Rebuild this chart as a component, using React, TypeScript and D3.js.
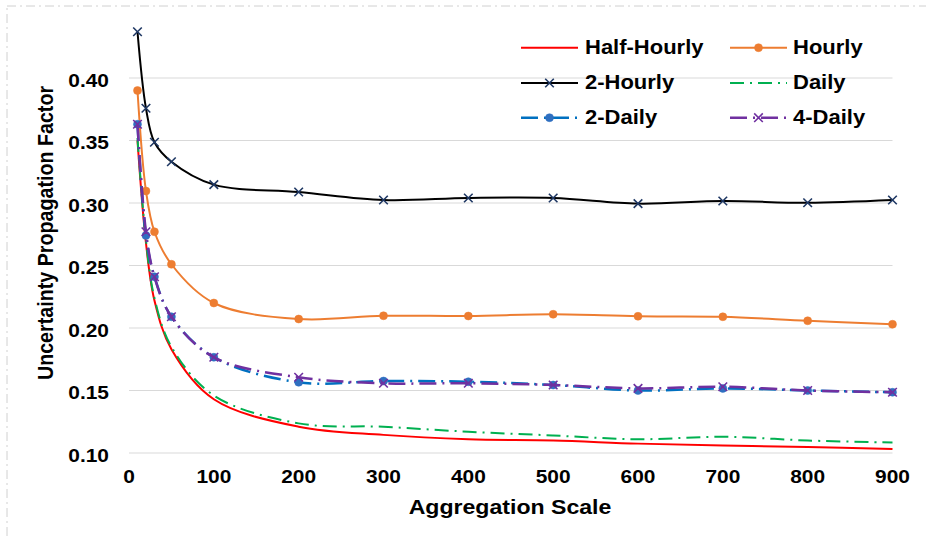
import React from "react";
import * as d3 from "d3";

const scales = [10, 20, 30, 50, 100, 200, 300, 400, 500, 600, 700, 800, 900];
const halfHourly = [0.35, 0.268, 0.222, 0.183, 0.143, 0.121, 0.1145, 0.111, 0.11, 0.1075, 0.106, 0.1048, 0.1032];
const hourly = [0.39, 0.3096, 0.277, 0.251, 0.22, 0.2072, 0.2098, 0.2096, 0.211, 0.2094, 0.209, 0.2058, 0.203];
const twoHourly = [0.437, 0.3758, 0.3486, 0.333, 0.3147, 0.3088, 0.3024, 0.304, 0.304, 0.2995, 0.3016, 0.3002, 0.3024];
const daily = [0.352, 0.27, 0.224, 0.185, 0.146, 0.1237, 0.121, 0.117, 0.114, 0.111, 0.113, 0.11, 0.1084];
const twoDaily = [0.363, 0.274, 0.241, 0.209, 0.1766, 0.1566, 0.1576, 0.157, 0.1544, 0.15, 0.1517, 0.15, 0.1486];
const fourDaily = [0.363, 0.277, 0.241, 0.209, 0.1766, 0.1606, 0.1558, 0.1558, 0.1544, 0.1517, 0.153, 0.15, 0.1486];

const xTicks = [0, 100, 200, 300, 400, 500, 600, 700, 800, 900];
const yTicks = [0.1, 0.15, 0.2, 0.25, 0.3, 0.35, 0.4];

type Series = {
  name: string;
  values: number[];
  color: string;
  width: number;
  dash?: string;
  marker?: "circle" | "x";
  markerColor?: string;
};

const series: Series[] = [
  { name: "Half-Hourly", values: halfHourly, color: "#FF0000", width: 2 },
  { name: "Hourly", values: hourly, color: "#ED7D31", width: 2, marker: "circle", markerColor: "#ED7D31" },
  { name: "2-Hourly", values: twoHourly, color: "#000000", width: 2, marker: "x", markerColor: "#1F3864" },
  { name: "Daily", values: daily, color: "#00B050", width: 2, dash: "14,6,2,6" },
  { name: "2-Daily", values: twoDaily, color: "#0070C0", width: 2.5, dash: "17,6,2,6", marker: "circle", markerColor: "#2F6FC0" },
  { name: "4-Daily", values: fourDaily, color: "#7030A0", width: 2.5, dash: "17,6,2,6", marker: "x", markerColor: "#7030A0" },
];

const FONT = "'Liberation Sans', Arial, sans-serif";

const x = d3.scaleLinear().domain([0, 900]).range([129, 892.5]);
const y = d3.scaleLinear().domain([0.1, 0.4]).range([453, 78]);

function Marker({ kind, cx, cy, color }: { kind: "circle" | "x"; cx: number; cy: number; color: string }) {
  if (kind === "circle") return <circle cx={cx} cy={cy} r={4} fill={color} stroke={color} strokeWidth={0.5} />;
  const s = 4.3;
  return (
    <path
      d={`M${cx - s},${cy - s}L${cx + s},${cy + s}M${cx - s},${cy + s}L${cx + s},${cy - s}`}
      stroke={color}
      strokeWidth={1.6}
      fill="none"
    />
  );
}

function SText({ x: tx, y: ty, size, anchor, children, rotate }: any) {
  return (
    <g transform={`translate(${tx},${ty}) scale(1.1,1)${rotate ? ` rotate(${rotate})` : ""}`}>
      <text
        textAnchor={anchor}
        fontFamily={FONT}
        fontWeight="bold"
        fontSize={size}
        fill="#000"
      >
        {children}
      </text>
    </g>
  );
}

export default function App() {
  const line = d3
    .line<number>()
    .x((_, i) => x(scales[i]))
    .y((d) => y(d))
    .curve(d3.curveCatmullRom.alpha(0.5));

  const legendPos = [
    { lx: 521, tx: 585, ly: 47.7, ty: 54.3 },
    { lx: 730, tx: 793, ly: 47.7, ty: 54.3 },
    { lx: 521, tx: 585, ly: 83, ty: 89.3 },
    { lx: 730, tx: 793, ly: 83, ty: 89.3 },
    { lx: 521, tx: 585, ly: 117.7, ty: 124.3 },
    { lx: 730, tx: 793, ly: 117.7, ty: 124.3 },
  ];

  return (
    <svg
      width={926}
      height={540}
      style={{ position: "absolute", left: 0, top: 0, background: "#fff" }}
    >
      <rect x={0} y={0} width={926} height={540} fill="#fff" />
      <rect
        x={7}
        y={6}
        width={940}
        height={560}
        fill="none"
        stroke="#D0D0D0"
        strokeWidth={1}
        strokeDasharray="9,4,2,4"
      />
      {yTicks.map((t) => (
        <line key={t} x1={x(0)} x2={x(900)} y1={y(t)} y2={y(t)} stroke="#D9D9D9" strokeWidth={1.2} />
      ))}
      {yTicks.map((t) => (
        <SText key={t} x={109} y={y(t) + 8.6} size={19} anchor="end">
          {d3.format(".2f")(t)}
        </SText>
      ))}
      {xTicks.map((t) => (
        <SText key={t} x={x(t)} y={483.3} size={19} anchor="middle">
          {t}
        </SText>
      ))}
      <SText x={510} y={514} size={21} anchor="middle">
        Aggregation Scale
      </SText>
      <SText x={53} y={233} size={19.7} anchor="middle" rotate={-90}>
        Uncertainty Propagation Factor
      </SText>

      {series.map((s) => (
        <g key={s.name}>
          <path
            d={line(s.values) || ""}
            fill="none"
            stroke={s.color}
            strokeWidth={s.width}
            strokeDasharray={s.dash}
            strokeLinejoin="round"
          />
          {s.marker &&
            s.values.map((v, i) => (
              <Marker key={i} kind={s.marker!} cx={x(scales[i])} cy={y(v)} color={s.markerColor!} />
            ))}
        </g>
      ))}

      {series.map((s, i) => {
        const p = legendPos[i];
        return (
          <g key={"lg" + s.name}>
            <line
              x1={p.lx}
              x2={p.lx + 57}
              y1={p.ly}
              y2={p.ly}
              stroke={s.color}
              strokeWidth={s.width}
              strokeDasharray={s.dash}
            />
            {s.marker && <Marker kind={s.marker} cx={p.lx + 28.5} cy={p.ly} color={s.markerColor!} />}
            <SText x={p.tx} y={p.ty} size={20} anchor="start">
              {s.name}
            </SText>
          </g>
        );
      })}
    </svg>
  );
}
